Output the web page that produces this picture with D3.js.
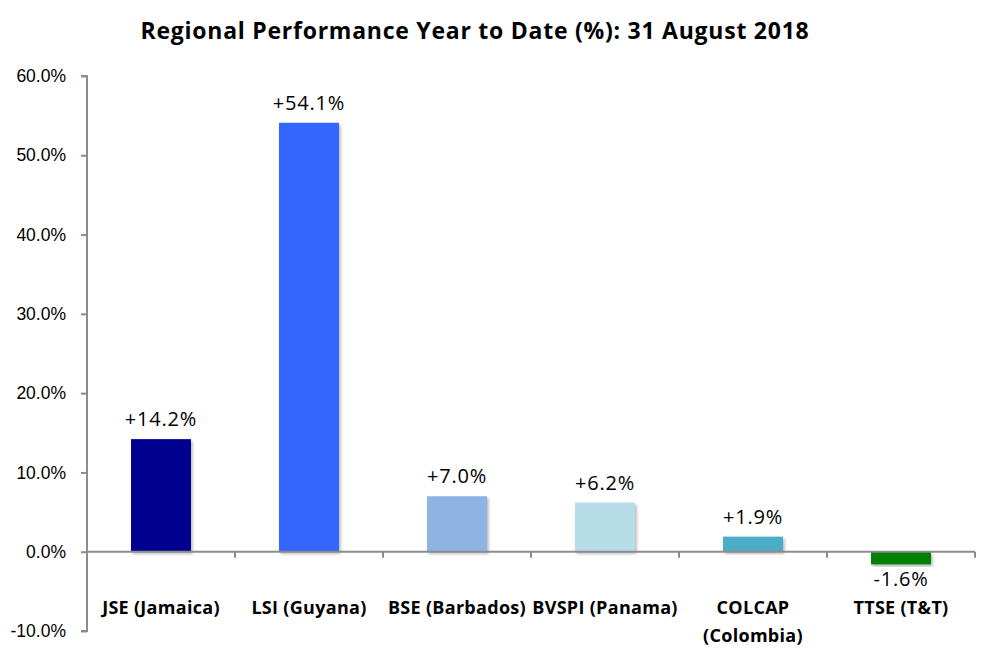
<!DOCTYPE html>
<html>
<head>
<meta charset="utf-8">
<script src="https://cdnjs.cloudflare.com/ajax/libs/d3/7.8.5/d3.min.js"></script>
<style>
  body { margin: 0; background: #fff; }
  svg { display: block; font-family: "Open Sans", Lato, sans-serif; }
  .axis path, .axis line { stroke: #8c8c8c; stroke-width: 2; }
  .axis text { fill: #000; }
</style>
</head>
<body>
<div id="chart"></div>
<script>
// chart data
var categories = ["JSE (Jamaica)", "LSI (Guyana)", "BSE (Barbados)", "BVSPI (Panama)", "COLCAP|(Colombia)", "TTSE (T&T)"];
var values = [14.2, 54.1, 7.0, 6.2, 1.9, -1.6];
var colors = ["#000090", "#3366ff", "#8db4e2", "#b7dee8", "#4bacc6", "#008000"];
var yTicks = [-10, 0, 10, 20, 30, 40, 50, 60];

var width = 999;
var height = 666;

// plot box
var plotLeft = 87, plotRight = 975, plotTop = 76, plotBottom = 631;

var svg = d3.select("#chart")
  .append("svg")
  .attr("width", width)
  .attr("height", height);

// shadow for bars
var defs = svg.append("defs");
var filt = defs.append("filter").attr("id", "shadow")
  .attr("x", "-10%").attr("y", "-10%").attr("width", "130%").attr("height", "130%");
filt.append("feDropShadow")
  .attr("dx", 1.5).attr("dy", 2).attr("stdDeviation", 1.5)
  .attr("flood-color", "#000").attr("flood-opacity", 0.3);

// title
svg.append("text")
  .attr("x", 475)
  .attr("y", 39)
  .attr("text-anchor", "middle")
  .attr("font-size", 23)
  .attr("letter-spacing", 0.75)
  .attr("font-weight", "bold")
  .text("Regional Performance Year to Date (%): 31 August 2018");

var xScale = d3.scaleBand()
  .domain(categories)
  .range([plotLeft, plotRight])
  .paddingInner(0.595)
  .paddingOuter(0.2975);

var yScale = d3.scaleLinear()
  .domain([-10, 60])
  .range([plotBottom, plotTop]);

// y axis
var yAxis = d3.axisLeft(yScale)
  .tickValues(yTicks)
  .tickSize(6)
  .tickPadding(15)
  .tickFormat(function(d) { return d.toFixed(1) + "%"; });

svg.append("g")
  .attr("class", "axis yAxis")
  .attr("transform", "translate(" + plotLeft + ",0)")
  .call(yAxis)
  .call(function(g) { g.select(".domain").attr("d", "M-6," + plotTop + "H0V" + plotBottom + "H-6"); })
  .selectAll("text")
  .attr("font-size", 17.5);

// bars
svg.selectAll(".bar")
  .data(values)
  .enter()
  .append("rect")
  .attr("class", "bar")
  .attr("x", function(d, i) { return xScale(categories[i]); })
  .attr("y", function(d) { return yScale(Math.max(0, d)); })
  .attr("width", xScale.bandwidth())
  .attr("height", function(d) { return Math.abs(yScale(d) - yScale(0)); })
  .attr("fill", function(d, i) { return colors[i]; })
  .attr("filter", "url(#shadow)");

// x axis line at zero with tick marks between categories
var xg = svg.append("g").attr("class", "axis xAxis");
xg.append("line")
  .attr("x1", plotLeft).attr("x2", plotRight)
  .attr("y1", yScale(0)).attr("y2", yScale(0));
var bounds = d3.range(categories.length + 1).map(function(i) { return plotLeft + i * xScale.step(); });
xg.selectAll(".tk")
  .data(bounds)
  .enter()
  .append("line")
  .attr("class", "tk")
  .attr("x1", function(d) { return d; })
  .attr("x2", function(d) { return d; })
  .attr("y1", yScale(0))
  .attr("y2", yScale(0) + 6);

// value labels
svg.selectAll(".val")
  .data(values)
  .enter()
  .append("text")
  .attr("class", "val")
  .attr("x", function(d, i) { return xScale(categories[i]) + xScale.bandwidth() / 2; })
  .attr("y", function(d) { return d >= 0 ? yScale(d) - 13 : yScale(d) + 22; })
  .attr("text-anchor", "middle")
  .attr("font-size", 20)
  .attr("letter-spacing", 0.8)
  .text(function(d) { return (d >= 0 ? "+" : "") + d.toFixed(1) + "%"; });

// category labels
var cat = svg.selectAll(".cat")
  .data(categories)
  .enter()
  .append("text")
  .attr("class", "cat")
  .attr("text-anchor", "middle")
  .attr("font-size", 18)
  .attr("letter-spacing", 0.3)
  .attr("font-weight", "bold")
  .attr("x", function(d) { return xScale(d) + xScale.bandwidth() / 2; })
  .attr("y", 614);

cat.selectAll("tspan")
  .data(function(d) {
    var x = xScale(d) + xScale.bandwidth() / 2;
    return d.split("|").map(function(s) { return { s: s, x: x }; });
  })
  .enter()
  .append("tspan")
  .attr("x", function(d) { return d.x; })
  .attr("dy", function(d, i) { return i === 0 ? 0 : 28; })
  .text(function(d) { return d.s; });
</script>
</body>
</html>
